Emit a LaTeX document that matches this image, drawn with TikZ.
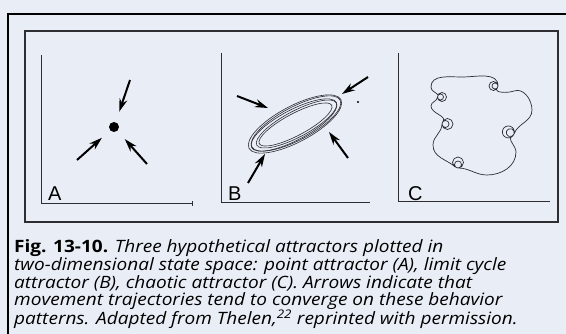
\documentclass[tikz,border=0pt]{standalone}
\usepackage{fontspec}
\setmainfont{Open Sans}[FakeStretch=1.12]
\newfontfamily\labelfont{Liberation Sans}
\usetikzlibrary{arrows.meta}
\definecolor{paper}{RGB}{233,237,246}
\definecolor{ink}{RGB}{45,45,50}

\begin{document}
\begin{tikzpicture}[x=1pt,y=-1pt,
  axis/.style={ink,line width=1pt},
  pull/.style={line width=2pt,-{Stealth[length=13pt,width=8pt]}},
  orbit/.style={ink,line width=0.6pt},
  panel/.style={font=\labelfont\fontsize{20}{20}\selectfont,anchor=base west,inner sep=0pt},
  caption/.style={font=\fontsize{17}{17}\selectfont,anchor=base west,inner sep=0pt,align=left}]
\fill[paper] (0,0) rectangle (566,334);
\useasboundingbox (0,0) rectangle (566,334);
\draw[line width=2.5pt] (8,334) -- (8,14) -- (566,14);
\draw[ink,line width=1.2pt] (25,31) rectangle (558,222);

% point attractor
\draw[axis] (41,55) -- (41,204) -- (192,204);
\draw[axis,line width=0.5pt] (192,201.5) -- (192,206);
\node[circle,fill=black,minimum size=10pt,inner sep=0pt] (pointA) at (114,127) {};
\coordinate (tailA1) at (130,80);
\coordinate (tailA2) at (77,160);
\coordinate (tailA3) at (147,164);
\draw[pull,shorten >=11pt] (tailA1) -- (pointA);
\draw[pull,shorten >=11pt] (tailA2) -- (pointA);
\draw[pull,shorten >=11pt] (tailA3) -- (pointA);
\node[panel] (labA) at (48,201) {A};

% limit cycle
\draw[axis] (221,53) -- (221,203) -- (370,203);
\foreach \a/\b/\dx/\dy in {52/18/0/0, 50/16.5/1/-0.5, 48/15/-1/1, 45/13/1.5/0, 41/11/0.5/0.5}
  \draw[orbit,shift={(295+\dx,124+\dy)},rotate=28] (0,0) ellipse [x radius=\a, y radius=\b];
\draw[pull] (237,96) -- (268,108);
\draw[pull] (368,77) -- (342,94);
\draw[pull] (348,158) -- (329,132);
\draw[pull] (248,183) -- (265,154);
\fill (358,102) circle (1.2pt);
\node[panel] (labB) at (228,201) {B};

% chaotic attractor
\draw[axis] (398,53) -- (398,202) -- (550,202);
\draw[orbit,line width=0.7pt] (431,106) to[out=90,in=270] (437.5,97)
  arc[start angle=180,delta angle=-360,radius=4.5pt]
  arc[start angle=180,delta angle=-400,radius=3pt]
  to[out=130,in=270] (431,87) to[out=90,in=180] (462,77)
  to[out=0,in=90] (498,86)
  arc[start angle=0,delta angle=-360,radius=4.5pt]
  arc[start angle=0,delta angle=-400,radius=3pt]
  to[out=230,in=200] (514,91) to[out=20,in=90] (532,110)
  to[out=270,in=70] (514,134)
  arc[start angle=340,delta angle=-360,radius=6pt]
  arc[start angle=340,delta angle=-400,radius=4pt]
  to[out=210,in=90] (516,152) to[out=270,in=0] (487,175)
  to[out=180,in=0] (458,168)
  arc[start angle=270,delta angle=-360,radius=5.5pt]
  arc[start angle=270,delta angle=-400,radius=3.5pt]
  to[out=140,in=270] (433,145) to[out=90,in=270] (442,124)
  arc[start angle=180,delta angle=-360,radius=5.5pt]
  arc[start angle=180,delta angle=-400,radius=3.5pt]
  to[out=50,in=270] (431,106);
\node[panel] (labC) at (408,201) {C};

\node[caption] (cap) at (14,325) {\textbf{Fig. 13-10.} \textit{Three hypothetical attractors plotted in}\\
  \textit{two-dimensional state space: point attractor (A), limit cycle}\\
  \textit{attractor (B), chaotic attractor (C). Arrows indicate that}\\
  \textit{movement trajectories tend to converge on these behavior}\\
  \textit{patterns. Adapted from Thelen,\textsuperscript{22} reprinted with permission.}};
\end{tikzpicture}
\end{document}
